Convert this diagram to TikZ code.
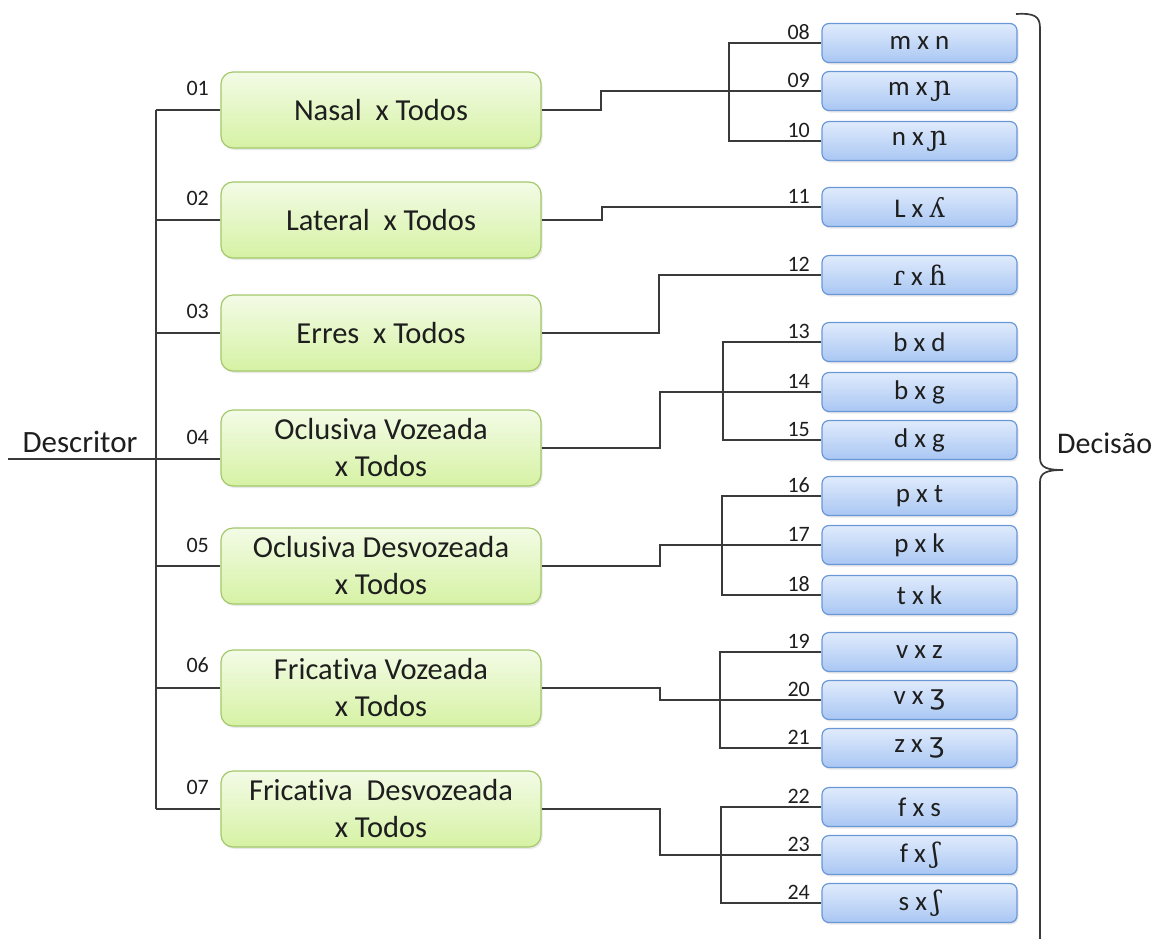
\documentclass[tikz,border=0pt]{standalone}
\usepackage{fontspec}
\setmainfont{Carlito}[Ligatures={NoCommon}]
\newfontfamily\ipafont{DejaVu Serif}
\newfontfamily\ipasans{DejaVu Sans}
\usetikzlibrary{shadows,calc}
\definecolor{gtop}{HTML}{F3FBE6}
\definecolor{gbot}{HTML}{D6F2A4}
\definecolor{gline}{HTML}{A3C86A}
\definecolor{btop}{HTML}{E0EBFC}
\definecolor{bbot}{HTML}{A9C7F3}
\definecolor{bline}{HTML}{6A97D8}
\definecolor{conncol}{HTML}{3A3A3A}
\definecolor{txtcol}{HTML}{1E1E1E}
\newcommand{\ip}[1]{{\ipafont #1}}
\newcommand{\ips}[1]{{\ipasans #1}}
\begin{document}
\begin{tikzpicture}[x=1pt,y=-1pt,
 catbox/.style={draw=gline, line width=1.2pt, rounded corners=12pt, top color=gtop, bottom color=gbot,
   minimum width=320pt, minimum height=76pt, align=center, inner sep=0pt, text=txtcol,
   font=\fontsize{30.5}{37}\selectfont,
   drop shadow={opacity=0.18, shadow xshift=1.5pt, shadow yshift=-2pt}},
 pairbox/.style={draw=bline, line width=1.2pt, rounded corners=7pt, top color=btop, bottom color=bbot,
   minimum width=195pt, minimum height=39pt, inner sep=0pt, text=txtcol,
   font=\fontsize{27}{31}\selectfont,
   drop shadow={opacity=0.18, shadow xshift=1.5pt, shadow yshift=-2pt}},
 num/.style={font=\fontsize{22}{26}\selectfont, anchor=east, inner sep=0pt, text=txtcol},
 connline/.style={draw=conncol, line width=1.9pt},
 bigtext/.style={font=\fontsize{31}{36}\selectfont, inner sep=0pt, text=txtcol}
]
\useasboundingbox (0,0) rectangle (1155,938);

% category boxes
\node[catbox] (c01) at (381,110) {Nasal\ \ x Todos};
\node[catbox] (c02) at (381,220) {Lateral\ \ x Todos};
\node[catbox] (c03) at (381,333) {Erres\ \ x Todos};
\node[catbox] (c04) at (381,448) {Oclusiva Vozeada\\x Todos};
\node[catbox] (c05) at (381,566) {Oclusiva Desvozeada\\x Todos};
\node[catbox] (c06) at (381,688) {Fricativa Vozeada\\x Todos};
\node[catbox] (c07) at (381,809) {Fricativa\ \ Desvozeada\\x Todos};

% pair boxes
\node[pairbox] (p08) at (919.5,43) {m x n};
\node[pairbox] (p09) at (919.5,91) {m x \ip{ɲ}};
\node[pairbox] (p10) at (919.5,141) {n x \ip{ɲ}};
\node[pairbox] (p11) at (919.5,207) {L x \ip{ʎ}};
\node[pairbox] (p12) at (919.5,275) {\ip{ɾ} x \ip{ɦ}};
\node[pairbox] (p13) at (919.5,342) {b x d};
\node[pairbox] (p14) at (919.5,392) {b x g};
\node[pairbox] (p15) at (919.5,440) {d x g};
\node[pairbox] (p16) at (919.5,496) {p x t};
\node[pairbox] (p17) at (919.5,545) {p x k};
\node[pairbox] (p18) at (919.5,595) {t x k};
\node[pairbox] (p19) at (919.5,652) {v x z};
\node[pairbox] (p20) at (919.5,700) {v x \ips{ʒ}};
\node[pairbox] (p21) at (919.5,748) {z x \ips{ʒ}};
\node[pairbox] (p22) at (919.5,807) {f x s};
\node[pairbox] (p23) at (919.5,855) {f x \ip{ʃ}};
\node[pairbox] (p24) at (919.5,903) {s x \ip{ʃ}};

% left tree
\coordinate (tt) at (156,110);
\coordinate (tb) at (156,809);
\coordinate (d0) at (8,459);
\draw[connline] (tt) -- (tb);
\draw[connline] (d0) -- (d0 -| c04.west);
\foreach \c in {c01,c02,c03,c05,c06,c07}
  \draw[connline] (\c.west) -- (\c.west -| tt);

% category to pair connectors
\draw[connline] (c01.east) -- ++(59,0) |- (p09.west);
\draw[connline] (c02.east) -- ++(60,0) |- (p11.west);
\draw[connline] (c03.east) -- ++(117,0) |- (p12.west);
\draw[connline] (c04.east) -- ++(118,0) |- (p14.west);
\draw[connline] (c05.east) -- ++(118,0) |- (p17.west);
\draw[connline] (c06.east) -- ++(118,0) |- (p20.west);
\draw[connline] (c07.east) -- ++(118,0) |- (p23.west);

% pair groups
\draw[connline] (p08.west) -- ++(-92,0) |- (p10.west);
\draw[connline] (p13.west) -- ++(-98,0) |- (p15.west);
\draw[connline] (p16.west) -- ++(-99,0) |- (p18.west);
\draw[connline] (p19.west) -- ++(-101,0) |- (p21.west);
\draw[connline] (p22.west) -- ++(-100,0) |- (p24.west);

% numbers
\node[num] (n01) at (209,88) {01};
\node[num] (n02) at (209,198) {02};
\node[num] (n03) at (209,311) {03};
\node[num] (n04) at (209,437) {04};
\node[num] (n05) at (209,545) {05};
\node[num] (n06) at (209,665) {06};
\node[num] (n07) at (209,787) {07};
\node[num] (n08) at (810,32) {08};
\node[num] (n09) at (810,80) {09};
\node[num] (n10) at (810,130) {10};
\node[num] (n11) at (810,196) {11};
\node[num] (n12) at (810,264) {12};
\node[num] (n13) at (810,331) {13};
\node[num] (n14) at (810,381) {14};
\node[num] (n15) at (810,429) {15};
\node[num] (n16) at (810,485) {16};
\node[num] (n17) at (810,534) {17};
\node[num] (n18) at (810,584) {18};
\node[num] (n19) at (810,641) {19};
\node[num] (n20) at (810,689) {20};
\node[num] (n21) at (810,737) {21};
\node[num] (n22) at (810,796) {22};
\node[num] (n23) at (810,844) {23};
\node[num] (n24) at (810,892) {24};

% side texts
\node[bigtext, anchor=base] (desc) at (80,452) {Descritor};
\node[bigtext, anchor=base west, font=\fontsize{30}{36}\selectfont] (dec) at (1057,453) {Decisão};

% brace
\draw[draw=conncol, line width=1.7pt] (1016,14) .. controls (1034,13) and (1040,16) .. (1040,28)
  -- (1040,458) .. controls (1040,468) and (1048,470) .. (1063,470)
  .. controls (1048,470) and (1040,472) .. (1040,482) -- (1040,940);
\end{tikzpicture}
\end{document}
